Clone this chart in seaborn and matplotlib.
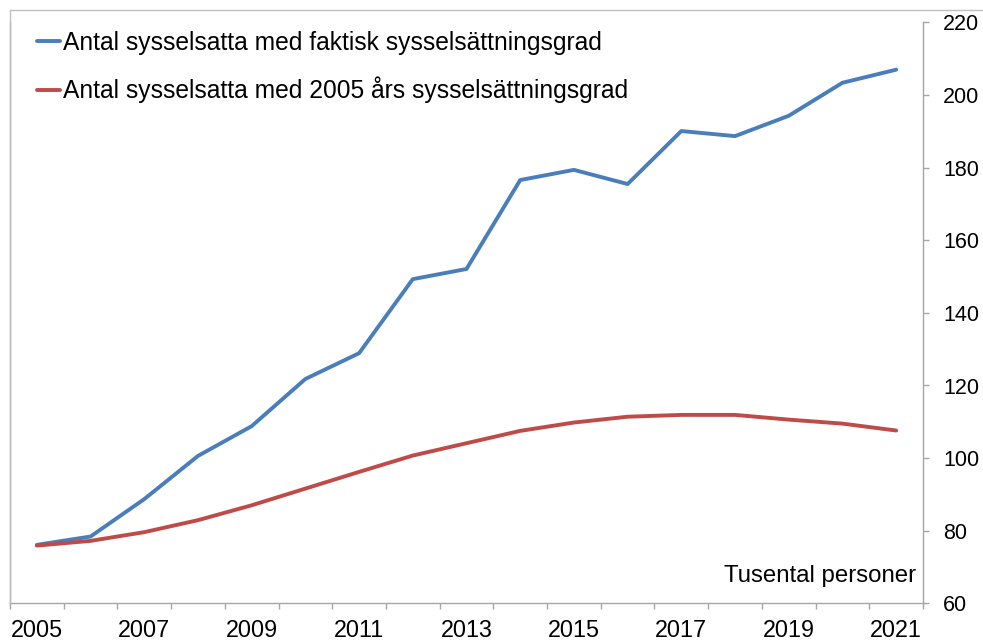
import pandas as pd
import numpy as np
import matplotlib
matplotlib.use('Agg')
import matplotlib.pyplot as plt
import seaborn as sns
from matplotlib.lines import Line2D

years = list(range(2005, 2022))
faktisk = [76.1, 78.4, 88.7, 100.6, 108.8, 121.8, 128.9, 149.3, 152.1, 176.6,
           179.4, 175.5, 190.1, 188.7, 194.3, 203.4, 207.0]
grad_2005 = [75.9, 77.2, 79.6, 82.9, 87.0, 91.6, 96.2, 100.7, 104.1, 107.5,
             109.8, 111.4, 111.9, 111.9, 110.6, 109.5, 107.6]
series_names = ['Antal sysselsatta med faktisk sysselsättningsgrad',
                'Antal sysselsatta med 2005 års sysselsättningsgrad']
y_ticks = [60, 80, 100, 120, 140, 160, 180, 200, 220]
unit_label = 'Tusental personer'

df = pd.DataFrame({
    'År': years * 2,
    'Värde': faktisk + grad_2005,
    'Serie': [series_names[0]] * len(years) + [series_names[1]] * len(years),
})

sns.set_style('white')
plt.rcParams['font.family'] = ['Liberation Sans', 'DejaVu Sans']
plt.rcParams['text.color'] = 'black'
plt.rcParams['xtick.color'] = 'black'
plt.rcParams['ytick.color'] = 'black'

W, H = 983, 642
fig = plt.figure(figsize=(W / 100, H / 100), dpi=100)
ax = fig.add_axes([10 / W, 1 - 603.3 / H, 913 / W, (603.3 - 22.5) / H])

sns.lineplot(data=df, x='År', y='Värde', hue='Serie', hue_order=series_names,
             palette=['#4A7EBB', '#BE4B48'], linewidth=2.8, ax=ax, legend=False)

grey = '#A6A6A6'
ax.set_xlim(years[0] - 0.5, years[-1] + 0.5)
ax.set_ylim(y_ticks[0], y_ticks[-1])

# x: ticks on category borders, labels on every other year
ax.set_xticks(np.arange(years[0] - 0.5, years[-1] + 1, 1.0))
ax.set_xticklabels([])
ax.set_xticks(years[::2], minor=True)
ax.set_xticklabels([str(y) for y in years[::2]], minor=True, fontsize=16.8)
ax.tick_params(axis='x', which='major', bottom=True, length=4.5, width=1,
               color=grey, direction='out')
ax.tick_params(axis='x', which='minor', bottom=True, length=0, pad=11,
               labelcolor='black')

# y axis on the right
ax.yaxis.tick_right()
ax.set_yticks(y_ticks)
ax.set_yticklabels([str(v) for v in y_ticks], fontsize=15.5)
ax.tick_params(axis='y', right=True, length=4.5, width=1, color=grey,
               direction='out', pad=10, labelcolor='black')

ax.set_xlabel('')
ax.set_ylabel('')
for side in ['left', 'right', 'bottom']:
    ax.spines[side].set_visible(True)
    ax.spines[side].set_color(grey)
    ax.spines[side].set_linewidth(1)
ax.spines['top'].set_visible(False)

ax.text(years[-1] + 0.38, 66, unit_label, ha='right', va='baseline',
        fontsize=17.3, color='black')

handles = [Line2D([0], [0], color=c, lw=2.8) for c in ['#4A7EBB', '#BE4B48']]
leg = ax.legend(handles, series_names, loc='upper left',
                bbox_to_anchor=(27 / 913, 0.986), frameon=False, fontsize=17.7,
                handlelength=0.95, handletextpad=0.1, labelspacing=0.9,
                borderpad=0, borderaxespad=0)
for t in leg.get_texts():
    t.set_color('black')

# outer chart frame (top and left edge)
fig.add_artist(Line2D([9.5 / W, 9.5 / W, 1], [1 - 603 / H, 1 - 9.5 / H, 1 - 9.5 / H],
                      color='#BFBFBF', lw=1, transform=fig.transFigure))

fig.savefig('out.png', dpi=100)
